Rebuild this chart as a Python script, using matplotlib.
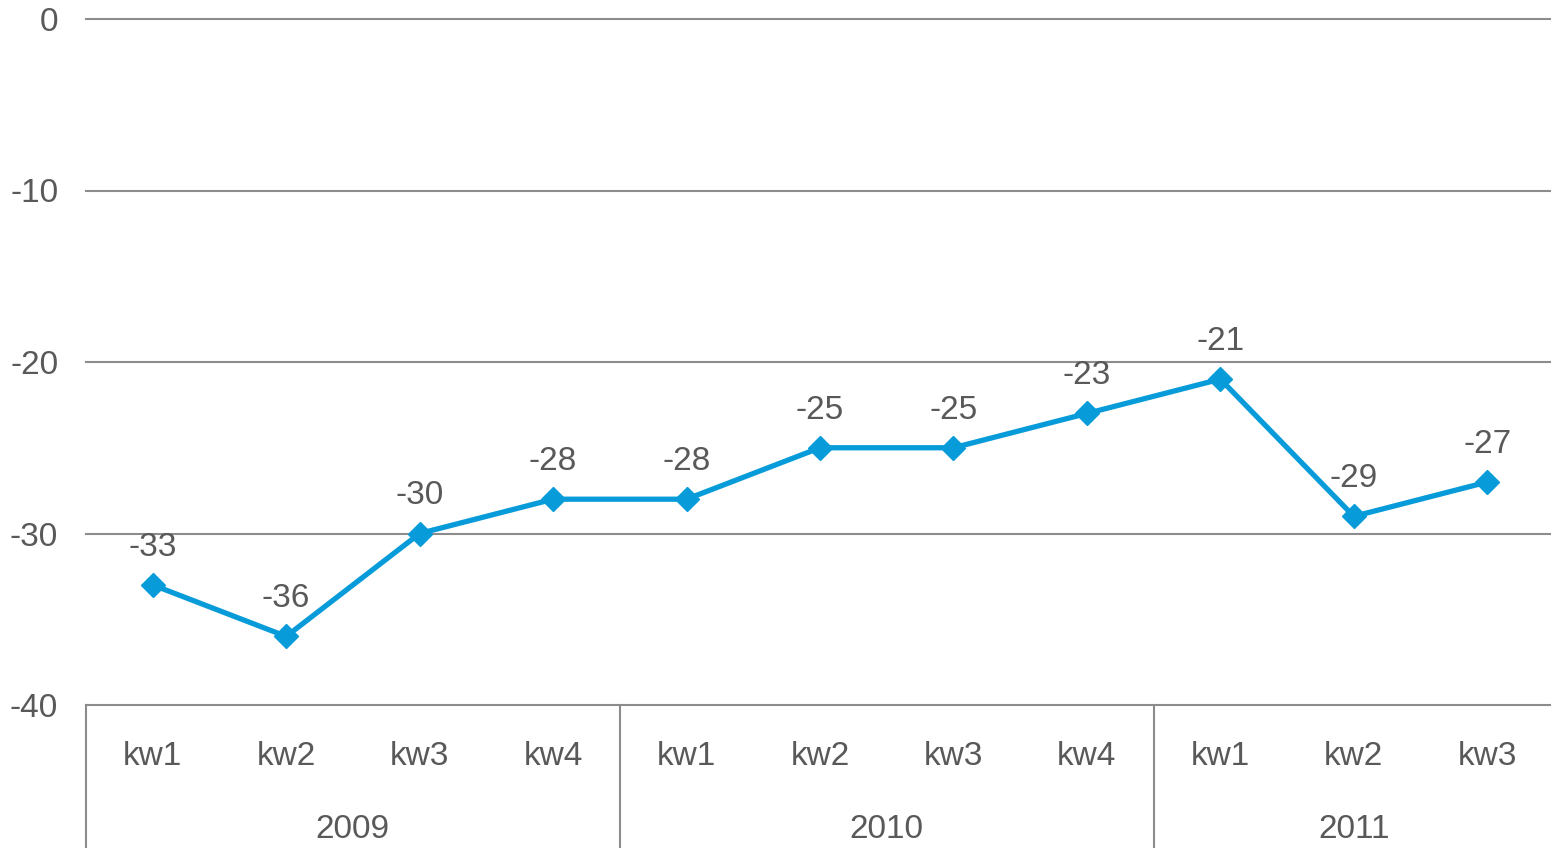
import matplotlib
matplotlib.use("Agg")
import matplotlib.pyplot as plt
import matplotlib.transforms as mtransforms

quarters = ['kw1', 'kw2', 'kw3', 'kw4', 'kw1', 'kw2', 'kw3', 'kw4', 'kw1', 'kw2', 'kw3']
years = ['2009', '2010', '2011']
year_sizes = [4, 4, 3]
values = [-33, -36, -30, -28, -28, -25, -25, -23, -21, -29, -27]
y_ticks = [0, -10, -20, -30, -40]

text_color = '#595959'
grid_color = '#8c8c8c'
line_color = '#079cd9'

plt.rcParams['font.family'] = ['Liberation Sans', 'DejaVu Sans']
plt.rcParams['font.size'] = 24

fig = plt.figure(figsize=(15.51, 8.48), dpi=100)
ax = fig.add_axes([86 / 1551, 1 - 705 / 848, (1554 - 86) / 1551, (705 - 19) / 848])

x = list(range(len(values)))
ax.plot(x, values, color=line_color, linewidth=3.8, marker='D', markersize=12.5, zorder=3)

for xi, v in zip(x, values):
    ax.annotate(str(v), (xi, v), xytext=(0, 16), textcoords='offset points',
                ha='center', va='bottom', color=text_color)

ax.set_xlim(-0.5, len(values) - 0.5)
ax.set_ylim(-40, 0)
ax.set_yticks(y_ticks)
ax.set_yticklabels([str(t) for t in y_ticks], color=text_color)
for t in y_ticks:
    ax.axhline(t, color=grid_color, linewidth=1.5, zorder=1, clip_on=False)

ax.set_xticks(x)
ax.set_xticklabels(quarters, color=text_color)
ax.tick_params(axis='x', length=0, pad=26)
ax.tick_params(axis='y', length=0, pad=20)
for s in ax.spines.values():
    s.set_visible(False)

# year groups below the quarter labels
trans = mtransforms.blended_transform_factory(ax.transData, ax.transAxes)
ax_h = (705 - 19)
start = 0
bounds = [start]
for n in year_sizes:
    start += n
    bounds.append(start)
for b in bounds[:-1]:
    ax.plot([b - 0.5, b - 0.5], [0, -143 / ax_h], transform=trans, color=grid_color,
            linewidth=1.5, clip_on=False)
for i, yr in enumerate(years):
    mid = (bounds[i] + bounds[i + 1] - 1) / 2
    ax.text(mid, -124 / ax_h, yr, transform=trans, ha='center', va='center', color=text_color)

fig.savefig('out.png', dpi=100)
